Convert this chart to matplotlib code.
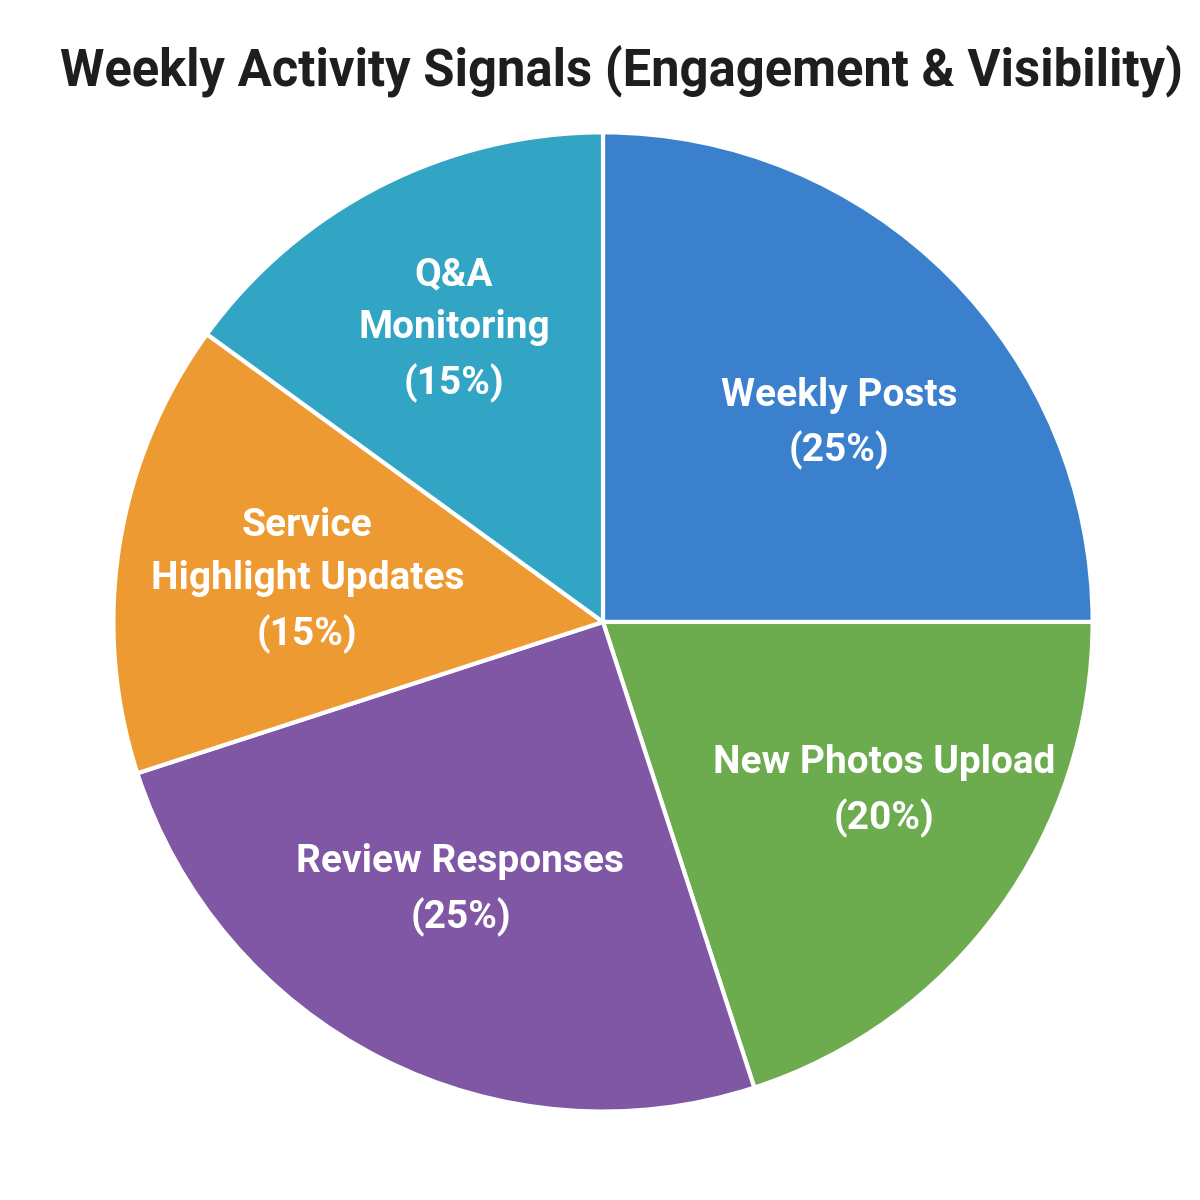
import numpy as np
import matplotlib.pyplot as plt

# data
activities = ["Weekly Posts", "New Photos Upload", "Review Responses",
              "Service\nHighlight Updates", "Q&A\nMonitoring"]
shares = [25, 20, 25, 15, 15]
colors = ["#3A80CC", "#6DAB4F", "#7F57A5", "#EE9A33", "#33A5C4"]

# label placement (fraction of radius, angle tweak in degrees)
label_r = [0.63, 0.67, 0.62, 0.61, 0.67]
label_dang = [-5, 5, -1, 1, 0]

plt.rcParams['font.family'] = ['Roboto', 'DejaVu Sans']

fig = plt.figure(figsize=(12, 12), dpi=100)
ax = fig.add_axes([0.5025 - 0.408, 0.4817 - 0.408, 0.816, 0.816])

wedges, _ = ax.pie(shares, colors=colors, startangle=90, counterclock=False,
                   radius=1.0,
                   wedgeprops=dict(edgecolor="white", linewidth=3))
ax.set_xlim(-1, 1); ax.set_ylim(-1, 1)
ax.set_aspect("equal")
ax.axis("off")

for w, name, val, r, da in zip(wedges, activities, shares, label_r, label_dang):
    ang = np.deg2rad((w.theta1 + w.theta2) / 2 + da)
    ax.text(r * np.cos(ang), r * np.sin(ang), f"{name}\n({val}%)",
            ha="center", va="center", color="white", fontsize=28,
            fontweight="bold", linespacing=1.55)

fig.text(0.518, 0.941, "Weekly Activity Signals (Engagement & Visibility)",
         ha="center", va="center", fontsize=36.5, fontweight="bold", color="#1E1E1E")

fig.savefig("out.png", dpi=100, facecolor="white")
